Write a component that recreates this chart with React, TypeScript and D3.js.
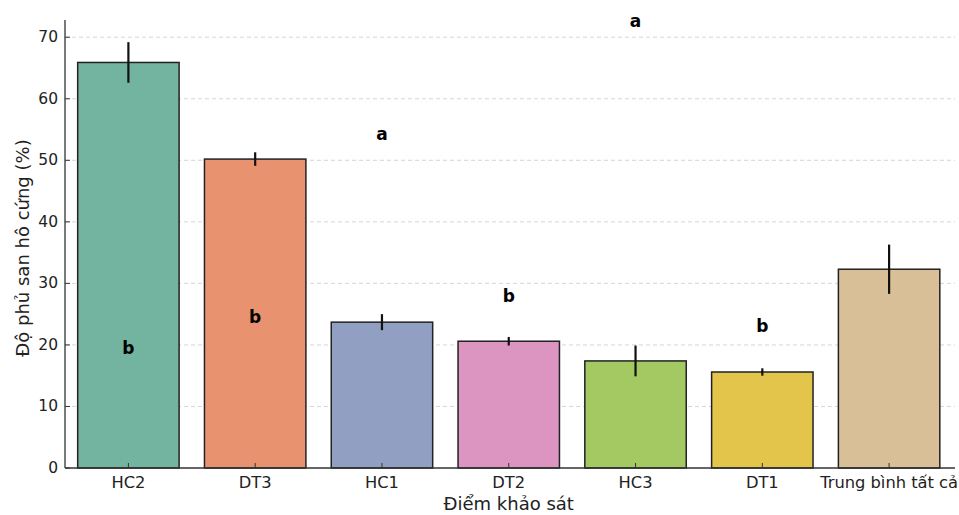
import React from "react";
import * as d3 from "d3";

const categories = ["HC2", "DT3", "HC1", "DT2", "HC3", "DT1", "Trung bình tất cả"];
const means = [65.9, 50.2, 23.7, 20.6, 17.4, 15.6, 32.3];
const errors = [3.3, 1.1, 1.3, 0.7, 2.5, 0.6, 4.0];
const colors = ["#72b4a0", "#e8926f", "#91a0c2", "#db95c0", "#a4c862", "#e3c54b", "#d9bf98"];
const letters = ["b", "b", "a", "b", "a", "b", ""];
const letterY = [19.5, 24.5, 54.2, 28, 72.6, 23, 0];
const yTicks = [0, 10, 20, 30, 40, 50, 60, 70];

const W = 959, H = 515;
const left = 65, right = 952.5, top = 20, bottom = 468;

export default function App() {
  const x = d3.scaleBand<string>().domain(categories).range([left, right]).paddingInner(0.2).paddingOuter(0.1);
  const y = d3.scaleLinear().domain([0, 72.8]).range([bottom, top]);
  const font = "DejaVu Sans, sans-serif";
  return (
    <svg width={W} height={H} style={{ position: "absolute", left: 0, top: 0, background: "#fff" }} fontFamily={font}>
      {yTicks.filter(t => t > 0).map(t => (
        <line key={"g" + t} x1={left} x2={955} y1={y(t)} y2={y(t)} stroke="#cccccc" strokeWidth={0.8} strokeDasharray="4,3" />
      ))}
      {categories.map((c, i) => (
        <g key={c}>
          <rect x={x(c)} y={y(means[i])} width={x.bandwidth()} height={bottom - y(means[i])} fill={colors[i]} stroke="#222" strokeWidth={1.5} />
          <line x1={x(c)! + x.bandwidth() / 2} x2={x(c)! + x.bandwidth() / 2} y1={y(means[i] - errors[i])} y2={y(means[i] + errors[i])} stroke="#111" strokeWidth={2.2} />
          {letters[i] && (
            <text x={x(c)! + x.bandwidth() / 2} y={y(letterY[i])} textAnchor="middle" dominantBaseline="central" fontSize={17} fontWeight="bold" fill="#000">{letters[i]}</text>
          )}
          <line x1={x(c)! + x.bandwidth() / 2} x2={x(c)! + x.bandwidth() / 2} y1={bottom} y2={bottom - 5} stroke="#333" strokeWidth={1} />
          <text x={x(c)! + x.bandwidth() / 2} y={488} textAnchor="middle" fontSize={16.3} fill="#222">{c}</text>
        </g>
      ))}
      {yTicks.map(t => (
        <g key={"t" + t}>
          <line x1={left} x2={left + 5} y1={y(t)} y2={y(t)} stroke="#333" strokeWidth={1} />
          <text x={left - 7} y={y(t)} textAnchor="end" dominantBaseline="central" fontSize={15.5} fill="#222">{t}</text>
        </g>
      ))}
      <line x1={left} x2={left} y1={top} y2={bottom} stroke="#333" strokeWidth={1.3} />
      <line x1={left} x2={955} y1={bottom} y2={bottom} stroke="#333" strokeWidth={1.3} />
      <text x={(left + right) / 2} y={510} textAnchor="middle" fontSize={18} fill="#222">Điểm khảo sát</text>
      <text transform={`translate(22, ${(top + bottom) / 2 + 4}) rotate(-90)`} textAnchor="middle" dominantBaseline="central" fontSize={18} fill="#222">Độ phủ san hô cứng (%)</text>
    </svg>
  );
}
